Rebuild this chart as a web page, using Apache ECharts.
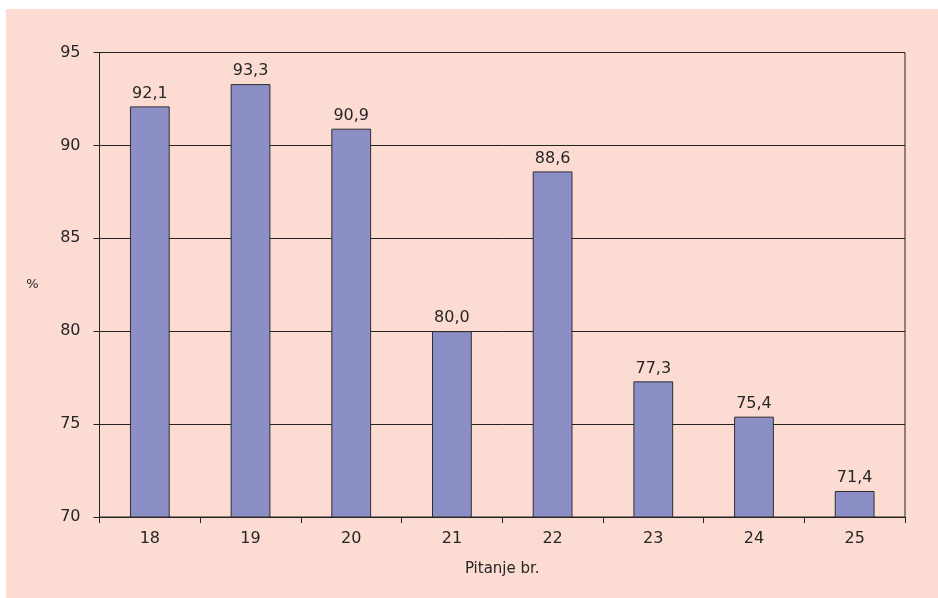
<!DOCTYPE html>
<html>
<head>
<meta charset="utf-8">
<script src="https://cdn.jsdelivr.net/npm/echarts@6/dist/echarts.min.js"></script>
<style>
  html, body { margin: 0; padding: 0; background: #ffffff; }
  #chart { position: absolute; left: 6px; top: 9px; width: 932px; height: 589px; background: #FCDBD2; }
</style>
</head>
<body>
<div id="chart"></div>
<script>
// Question numbers and share of answers (%)
const categories = ['18', '19', '20', '21', '22', '23', '24', '25'];
const values = [92.1, 93.3, 90.9, 80.0, 88.6, 77.3, 75.4, 71.4];
const yTicks = { min: 70, max: 95, step: 5 };

const textColor = '#262626';
const lineColor = '#222222';
const fontFamily = '"DejaVu Sans", Verdana, sans-serif';

const chart = echarts.init(document.getElementById('chart'), null, { renderer: 'canvas' });

chart.setOption({
  animation: false,
  backgroundColor: 'transparent',
  textStyle: { fontFamily: fontFamily, color: textColor },
  grid: {
    left: 93.5, top: 43.5, right: 33, bottom: 81,
    show: true, borderColor: lineColor, borderWidth: 1, backgroundColor: 'transparent'
  },
  xAxis: {
    type: 'category',
    data: categories,
    name: 'Pitanje br.',
    nameLocation: 'middle',
    nameGap: 45,
    nameTextStyle: { fontSize: 15, color: textColor, fontFamily: fontFamily },
    axisLine: { show: true, lineStyle: { color: lineColor, width: 1 } },
    axisTick: { show: true, length: 6, lineStyle: { color: lineColor } },
    axisLabel: { fontSize: 16, color: textColor, margin: 14, fontFamily: fontFamily },
    splitLine: { show: false }
  },
  yAxis: {
    type: 'value',
    min: yTicks.min,
    max: yTicks.max,
    interval: yTicks.step,
    name: '%',
    nameLocation: 'middle',
    nameRotate: 0,
    nameGap: 61,
    nameTextStyle: { fontSize: 13, color: textColor, fontFamily: fontFamily },
    axisLine: { show: true, lineStyle: { color: lineColor, width: 1 } },
    axisTick: { show: true, length: 6, lineStyle: { color: lineColor } },
    axisLabel: { fontSize: 16, color: textColor, margin: 19, fontFamily: fontFamily },
    splitLine: { show: true, lineStyle: { color: lineColor, width: 1 } }
  },
  series: [{
    type: 'bar',
    data: values,
    barWidth: '39.5%',
    itemStyle: { color: '#8C8FC6', borderColor: '#2e2e2e', borderWidth: 1 },
    label: {
      show: true,
      position: 'top',
      distance: 5,
      fontSize: 16,
      color: textColor,
      fontFamily: fontFamily,
      formatter: p => p.value.toFixed(1).replace('.', ',')
    }
  }]
});
</script>
</body>
</html>
